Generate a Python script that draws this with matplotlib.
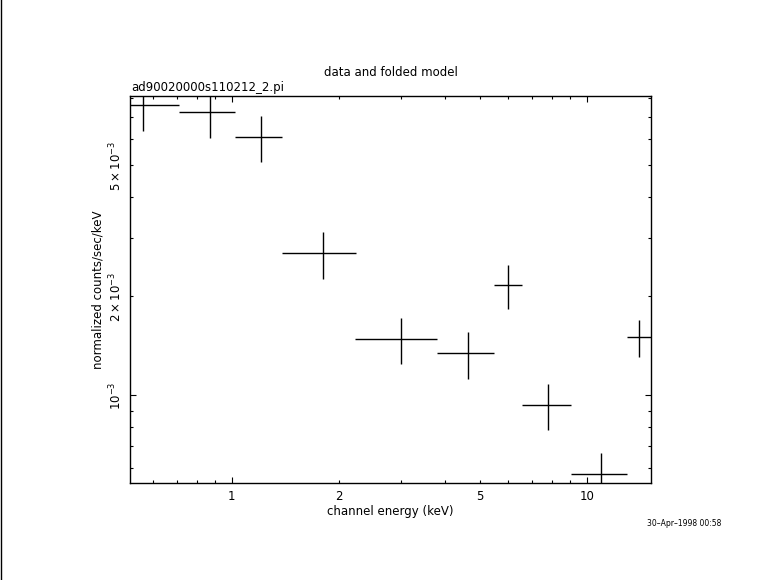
import matplotlib
matplotlib.use('Agg')
import matplotlib.pyplot as plt
from matplotlib.ticker import FixedLocator, FuncFormatter
from matplotlib.lines import Line2D

# channel energy bins (keV): centre and half width
energy = [0.561, 0.868, 1.206, 1.812, 3.003, 4.625, 6.015, 7.785, 10.985, 14.07]
energy_err = [0.151, 0.156, 0.182, 0.424, 0.776, 0.845, 0.545, 1.225, 1.975, 1.11]

# normalized counts/sec/keV and 1-sigma errors
rate = [7.62e-3, 7.26e-3, 6.09e-3, 2.705e-3, 1.482e-3, 1.344e-3, 2.163e-3, 0.934e-3, 0.576e-3, 1.503e-3]
rate_err = [1.24e-3, 1.19e-3, 0.97e-3, 0.44e-3, 0.235e-3, 0.22e-3, 0.33e-3, 0.15e-3, 0.093e-3, 0.195e-3]

x_labels = {1: '1', 2: '2', 5: '5', 10: '10'}
y_labels = {1e-3: r'$10^{-3}$', 2e-3: r'$2\times10^{-3}$', 5e-3: r'$5\times10^{-3}$'}

plt.rcParams['font.family'] = 'DejaVu Sans'
plt.rcParams['font.size'] = 8.5
plt.rcParams['mathtext.fontset'] = 'dejavusans'

fig = plt.figure(figsize=(7.81, 5.8), dpi=100)
ax = fig.add_axes([130 / 781, 1 - 483 / 580, 521 / 781, 387 / 580])

ax.errorbar(energy, rate, xerr=energy_err, yerr=rate_err, fmt='none',
            ecolor='black', elinewidth=1.0, capsize=0)

ax.set_xscale('log')
ax.set_yscale('log')
ax.set_xlim(0.517, 15.18)
ax.set_ylim(5.42e-4, 8.13e-3)

# decade ticks long, the rest short; labels on 1, 2, 5, 10
ax.xaxis.set_major_locator(FixedLocator([1, 10]))
ax.xaxis.set_minor_locator(FixedLocator([0.6, 0.7, 0.8, 0.9, 2, 3, 4, 5, 6, 7, 8, 9]))
ax.xaxis.set_major_formatter(FuncFormatter(lambda v, p: x_labels.get(round(v), '')))
ax.xaxis.set_minor_formatter(FuncFormatter(
    lambda v, p: x_labels.get(round(v), '') if abs(v - round(v)) < 1e-6 else ''))

ax.yaxis.set_major_locator(FixedLocator([1e-3]))
ax.yaxis.set_minor_locator(FixedLocator([6e-4, 7e-4, 8e-4, 9e-4, 2e-3, 3e-3, 4e-3,
                                         5e-3, 6e-3, 7e-3, 8e-3]))


def ylab(v, p):
    for k, s in y_labels.items():
        if abs(v - k) < 1e-9:
            return s
    return ''


ax.yaxis.set_major_formatter(FuncFormatter(ylab))
ax.yaxis.set_minor_formatter(FuncFormatter(ylab))

ax.tick_params(which='both', direction='in', top=True, right=True, width=0.8,
               colors='black', labelsize=8.5)
ax.tick_params(which='major', length=4.4)
ax.tick_params(which='minor', length=2.4)
ax.tick_params(axis='x', which='both', pad=5)
ax.tick_params(axis='y', which='both', pad=4)
for lab in ax.get_yticklabels(which='both'):
    lab.set_rotation(90)
    lab.set_va('center')
for s in ax.spines.values():
    s.set_linewidth(1.0)

ax.set_xlabel('channel energy (keV)', labelpad=1.5)
ax.set_ylabel('normalized counts/sec/keV', labelpad=2.5)

fig.text(390.5 / 781, 1 - 72 / 580, 'data and folded model', ha='center', va='center', fontsize=8.5)
fig.text(131 / 781, 1 - 88 / 580, 'ad90020000s110212_2.pi', ha='left', va='center', fontsize=8.5)
fig.text(721 / 781, 1 - 524 / 580, '30\u2013Apr\u20131998 00:58', ha='right', va='center', fontsize=5.5)

fig.add_artist(Line2D([0.0015, 0.0015], [0, 1], color='black', linewidth=1.0))

fig.savefig('out.png', dpi=100)
